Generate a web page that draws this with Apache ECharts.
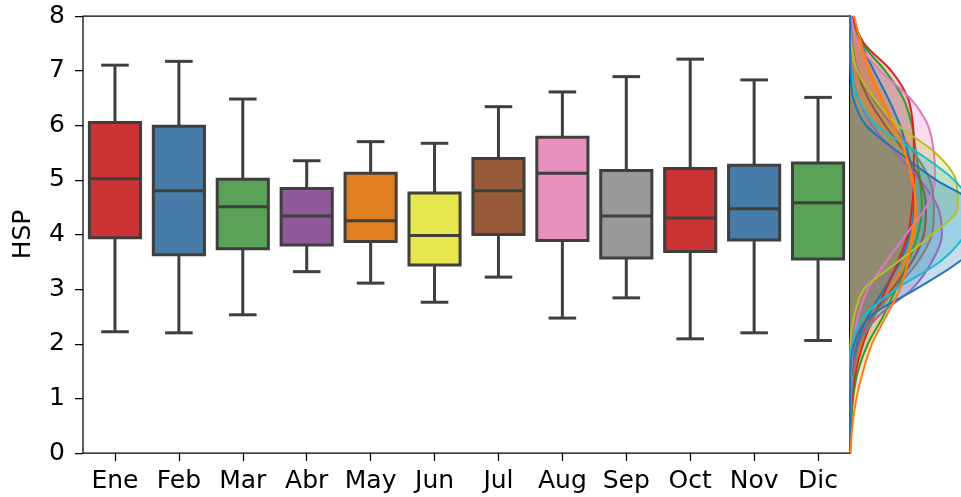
<!DOCTYPE html>
<html>
<head>
<meta charset="utf-8">
<title>HSP mensual</title>
<script src="https://cdn.jsdelivr.net/npm/echarts@6/dist/echarts.min.js"></script>
<style>
  html, body { margin: 0; padding: 0; background: #fff; }
  #chart { width: 961px; height: 497px; }
</style>
</head>
<body>
<div id="chart"></div>
<script>
// Months and box statistics (HSP)
const months = ['Ene', 'Feb', 'Mar', 'Abr', 'May', 'Jun', 'Jul', 'Aug', 'Sep', 'Oct', 'Nov', 'Dic'];
const whiskerLow  = [2.22, 2.20, 2.53, 3.32, 3.11, 2.76, 3.22, 2.47, 2.84, 2.09, 2.20, 2.06];
const q1          = [3.94, 3.63, 3.74, 3.81, 3.87, 3.44, 4.00, 3.89, 3.57, 3.69, 3.90, 3.55];
const median      = [5.02, 4.80, 4.51, 4.34, 4.25, 3.98, 4.80, 5.12, 4.34, 4.30, 4.47, 4.58];
const q3          = [6.05, 5.98, 5.01, 4.84, 5.12, 4.76, 5.39, 5.78, 5.17, 5.21, 5.27, 5.31];
const whiskerHigh = [7.10, 7.17, 6.48, 5.35, 5.70, 5.67, 6.34, 6.61, 6.89, 7.21, 6.83, 6.51];

// Y tick values
const yTicks = [0, 1, 2, 3, 4, 5, 6, 7, 8];

// Density levels (HSP) for the marginal KDE panel
const kdeLevels = ['0', '0.5', '1', '1.5', '2', '2.5', '3', '3.5', '4', '4.5', '5', '5.5', '6', '6.5', '7', '7.5', '8'];

// Density per month at each level
const kdeEne = [0, 0, 0.002, 0.009, 0.032, 0.081, 0.153, 0.225, 0.270, 0.288, 0.284, 0.261, 0.225, 0.171, 0.108, 0.050, 0.014];
const kdeFeb = [0, 0.002, 0.009, 0.023, 0.054, 0.108, 0.180, 0.248, 0.288, 0.297, 0.279, 0.243, 0.198, 0.144, 0.090, 0.045, 0.014];
const kdeMar = [0.001, 0.005, 0.014, 0.036, 0.081, 0.149, 0.207, 0.261, 0.306, 0.324, 0.315, 0.297, 0.279, 0.239, 0.158, 0.054, 0.005];
const kdeAbr = [0, 0.002, 0.009, 0.027, 0.059, 0.108, 0.162, 0.216, 0.261, 0.279, 0.288, 0.288, 0.284, 0.261, 0.185, 0.063, 0.009];
const kdeMay = [0, 0, 0.002, 0.011, 0.041, 0.126, 0.279, 0.369, 0.414, 0.396, 0.315, 0.203, 0.099, 0.036, 0.009, 0.002, 0];
const kdeJun = [0, 0.001, 0.005, 0.014, 0.041, 0.099, 0.189, 0.279, 0.333, 0.342, 0.315, 0.248, 0.158, 0.081, 0.032, 0.009, 0.002];
const kdeJul = [0, 0, 0.001, 0.005, 0.014, 0.036, 0.081, 0.162, 0.252, 0.342, 0.383, 0.378, 0.351, 0.270, 0.135, 0.036, 0.005];
const kdeAug = [0, 0.001, 0.005, 0.018, 0.045, 0.108, 0.203, 0.306, 0.369, 0.378, 0.360, 0.288, 0.189, 0.099, 0.036, 0.009, 0.001];
const kdeSep = [0, 0, 0, 0.001, 0.002, 0.018, 0.063, 0.216, 0.369, 0.486, 0.477, 0.383, 0.216, 0.108, 0.032, 0.005, 0];
const kdeOct = [0, 0, 0, 0.001, 0.009, 0.063, 0.207, 0.405, 0.518, 0.550, 0.468, 0.306, 0.117, 0.036, 0.005, 0, 0];
const kdeNov = [0, 0, 0, 0.002, 0.018, 0.090, 0.297, 0.491, 0.608, 0.586, 0.387, 0.221, 0.072, 0.014, 0.002, 0, 0];
const kdeDic = [0.002, 0.011, 0.029, 0.059, 0.099, 0.162, 0.225, 0.261, 0.279, 0.295, 0.284, 0.248, 0.194, 0.140, 0.086, 0.050, 0.018];
const kdeByMonth = [kdeEne, kdeFeb, kdeMar, kdeAbr, kdeMay, kdeJun, kdeJul, kdeAug, kdeSep, kdeOct, kdeNov, kdeDic];

// Palettes: muted Set1 for boxes, tab10 cycle for the densities
const boxColors = ['#cb3335', '#477ca8', '#59a257', '#90599a', '#df7f20', '#e6e64d',
                   '#965a38', '#e890be', '#999999', '#cb3335', '#477ca8', '#59a257'];
const kdeColors = ['#1f77b4', '#ff7f0e', '#2ca02c', '#d62728', '#9467bd', '#8c564b',
                   '#e377c2', '#7f7f7f', '#bcbd22', '#17becf', '#1f77b4', '#ff7f0e'];
const edgeGray = '#3f3f3f';
const FONT = 'DejaVu Sans';

const boxData = months.map((m, i) => [i, whiskerLow[i], q1[i], median[i], q3[i], whiskerHigh[i]]);

function renderBox(params, api) {
  const idx = api.value(0);
  const pLow = api.coord([idx, api.value(1)]);
  const pQ1 = api.coord([idx, api.value(2)]);
  const pMed = api.coord([idx, api.value(3)]);
  const pQ3 = api.coord([idx, api.value(4)]);
  const pHigh = api.coord([idx, api.value(5)]);
  const band = api.size([1, 0])[0];
  const half = band * 0.4;
  const capHalf = half * 0.54;
  const cx = pMed[0];
  const line = { stroke: edgeGray, lineWidth: 3, lineCap: 'butt' };
  return {
    type: 'group',
    children: [
      { type: 'line', shape: { x1: cx, y1: pQ3[1], x2: cx, y2: pHigh[1] }, style: line },
      { type: 'line', shape: { x1: cx, y1: pQ1[1], x2: cx, y2: pLow[1] }, style: line },
      { type: 'line', shape: { x1: cx - capHalf, y1: pHigh[1], x2: cx + capHalf, y2: pHigh[1] }, style: line },
      { type: 'line', shape: { x1: cx - capHalf, y1: pLow[1], x2: cx + capHalf, y2: pLow[1] }, style: line },
      {
        type: 'rect',
        shape: { x: cx - half, y: pQ3[1], width: half * 2, height: pQ1[1] - pQ3[1] },
        style: { fill: boxColors[params.dataIndex], stroke: edgeGray, lineWidth: 3 }
      },
      { type: 'line', shape: { x1: cx - half, y1: pMed[1], x2: cx + half, y2: pMed[1] }, style: line }
    ]
  };
}

const kdeSeries = kdeByMonth.map((vals, i) => ({
  name: months[i],
  type: 'line',
  xAxisIndex: 1,
  yAxisIndex: 1,
  data: vals,
  smooth: 0.3,
  symbol: 'none',
  clip: true,
  lineStyle: { color: kdeColors[i], width: 2 },
  areaStyle: { color: kdeColors[i], opacity: 0.25 },
  silent: true
}));

const chart = echarts.init(document.getElementById('chart'), null, { renderer: 'canvas' });
chart.setOption({
  animation: false,
  backgroundColor: '#ffffff',
  grid: [
    { left: 83, top: 16, right: 111, bottom: 44, show: true, borderColor: '#000', borderWidth: 1.25, backgroundColor: 'transparent' },
    { left: 850, top: 16, right: 0, bottom: 44 }
  ],
  xAxis: [
    {
      type: 'category',
      gridIndex: 0,
      data: months,
      boundaryGap: true,
      axisLine: { show: false },
      axisTick: { show: true, alignWithLabel: true, interval: 0, length: 8, lineStyle: { color: '#000', width: 1.25 } },
      axisLabel: { color: '#000', fontFamily: FONT, fontSize: 25, margin: 16, interval: 0 },
      splitLine: { show: false }
    },
    {
      type: 'value',
      gridIndex: 1,
      min: 0,
      max: 0.5,
      show: false
    }
  ],
  yAxis: [
    {
      type: 'value',
      gridIndex: 0,
      min: yTicks[0],
      max: yTicks[yTicks.length - 1],
      interval: 1,
      name: 'HSP',
      nameLocation: 'middle',
      nameGap: 47,
      nameTextStyle: { color: '#000', fontFamily: FONT, fontSize: 25 },
      axisLine: { show: false },
      axisTick: { show: true, length: 8, lineStyle: { color: '#000', width: 1.25 } },
      axisLabel: { color: '#000', fontFamily: FONT, fontSize: 25, margin: 18 },
      splitLine: { show: false }
    },
    {
      type: 'category',
      gridIndex: 1,
      data: kdeLevels,
      boundaryGap: false,
      axisLine: { show: true, lineStyle: { color: '#000', width: 1.5 } },
      axisTick: { show: false },
      axisLabel: { show: false },
      splitLine: { show: false }
    }
  ],
  series: [
    {
      type: 'custom',
      xAxisIndex: 0,
      yAxisIndex: 0,
      renderItem: renderBox,
      encode: { x: 0, y: [1, 2, 3, 4, 5] },
      data: boxData,
      silent: true,
      z: 3
    }
  ].concat(kdeSeries)
});
</script>
</body>
</html>
